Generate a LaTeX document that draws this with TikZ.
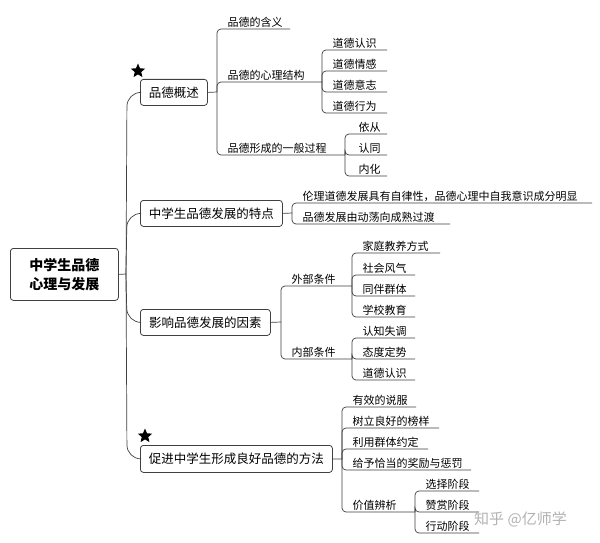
\documentclass[tikz,border=0pt]{standalone}
\usepackage{fontspec}
\setmainfont{Noto Sans CJK SC}
\usetikzlibrary{shapes.geometric}
\tikzset{
 lbox/.style={draw=black!75,rounded corners=3pt,line width=0.8pt,font=\fontsize{12.5}{14}\selectfont,inner sep=0pt,anchor=north west},
 leaf/.style={font=\fontsize{11}{13}\selectfont,inner sep=1.5pt,anchor=south west},
 ln/.style={draw=black!75,line width=0.7pt},
 starm/.style={star,star points=5,star point ratio=2.2,fill=black,inner sep=0pt,minimum size=15pt}
}
\newcommand\lf[6]{%
 \node[leaf] (#1) at (#2+9,#4) {#6};
 \draw[ln,rounded corners=4pt] (#2,#3) -- (#2,#4) -- (#5,#4);}
\newcommand\bx[6]{% name x1 y1 x2 y2 text
 \node[lbox,minimum width=#4pt-#2pt,minimum height=#5pt-#3pt] (#1) at (#2,#3) {#6};}
\begin{document}
\begin{tikzpicture}[x=1pt,y=-1pt]
\useasboundingbox (0,0) rectangle (600,543);
\fill[white] (0,0) rectangle (600,543);
% root
\node[draw=black!75,rounded corners=3pt,line width=0.8pt,minimum width=108pt,minimum height=52pt,anchor=north west,align=center,font=\fontsize{14}{19}\selectfont\bfseries] (root) at (10,248) {中学生品德\\心理与发展};
\bx{a}{140}{79}{207}{105}{品德概述}
\bx{b}{140}{200}{282}{226}{中学生品德发展的特点}
\bx{c}{140}{309}{270}{335}{影响品德发展的因素}
\bx{d}{140}{445}{332}{472}{促进中学生形成良好品德的方法}
\node[starm] (s1) at (138,71) {};
\node[starm] (s2) at (145,436) {};
\coordinate (rt) at (126,274);
\coordinate (tr) at (127,0);
\draw[ln] (root.east) -- (rt);
\foreach \n in {a,b,c,d}{\draw[ln,rounded corners=14pt] (rt) -- (tr|-\n.west) -- (\n.west);}
% a
\draw[ln] (a.east) -- (217,92);
\lf{a1}{217}{92}{29}{290}{品德的含义}
\lf{a2}{217}{92}{82}{322}{品德的心理结构}
\lf{a3}{217}{92}{155}{345}{品德形成的一般过程}
\lf{a21}{322}{82}{50}{387}{道德认识}
\lf{a22}{322}{82}{71}{387}{道德情感}
\lf{a23}{322}{82}{92}{387}{道德意志}
\lf{a24}{322}{82}{113}{387}{道德行为}
\lf{a31}{345}{155}{134}{387}{\hspace{3pt}依从}
\lf{a32}{345}{155}{155}{387}{\hspace{3pt}认同}
\lf{a33}{345}{155}{176}{387}{\hspace{3pt}内化}
% b
\draw[ln] (b.east) -- (292,213);
\lf{b1}{292}{213}{203}{592}{伦理道德发展具有自律性，品德心理中自我意识成分明显}
\lf{b2}{292}{213}{224}{450}{品德发展由动荡向成熟过渡}
% c
\draw[ln] (c.east) -- (281,322);
\lf{c1}{281}{322}{286}{352}{外部条件}
\lf{c2}{281}{322}{359}{352}{内部条件}
\lf{c11}{352}{286}{253}{440}{家庭教养方式}
\lf{c12}{352}{286}{275}{415}{社会风气}
\lf{c13}{352}{286}{296}{415}{同伴群体}
\lf{c14}{352}{286}{317}{415}{学校教育}
\lf{c21}{352}{359}{338}{415}{认知失调}
\lf{c22}{352}{359}{359}{415}{态度定势}
\lf{c23}{352}{359}{380}{415}{道德认识}
% d
\draw[ln] (d.east) -- (342,459);
\lf{d1}{342}{459}{407}{416}{有效的说服}
\lf{d2}{342}{459}{428}{439}{树立良好的榜样}
\lf{d3}{342}{459}{449}{428}{利用群体约定}
\lf{d4}{342}{459}{470}{471}{给予恰当的奖励与惩罚}
\lf{d5}{342}{459}{512}{415}{价值辨析}
\lf{d51}{415}{512}{491}{479}{选择阶段}
\lf{d52}{415}{512}{512}{479}{赞赏阶段}
\lf{d53}{415}{512}{533}{479}{行动阶段}
\node[text=black!30,font=\fontsize{15}{17}\selectfont,anchor=west,inner sep=0pt] (wm) at (474,519) {知乎 @亿师学};
\end{tikzpicture}
\end{document}
